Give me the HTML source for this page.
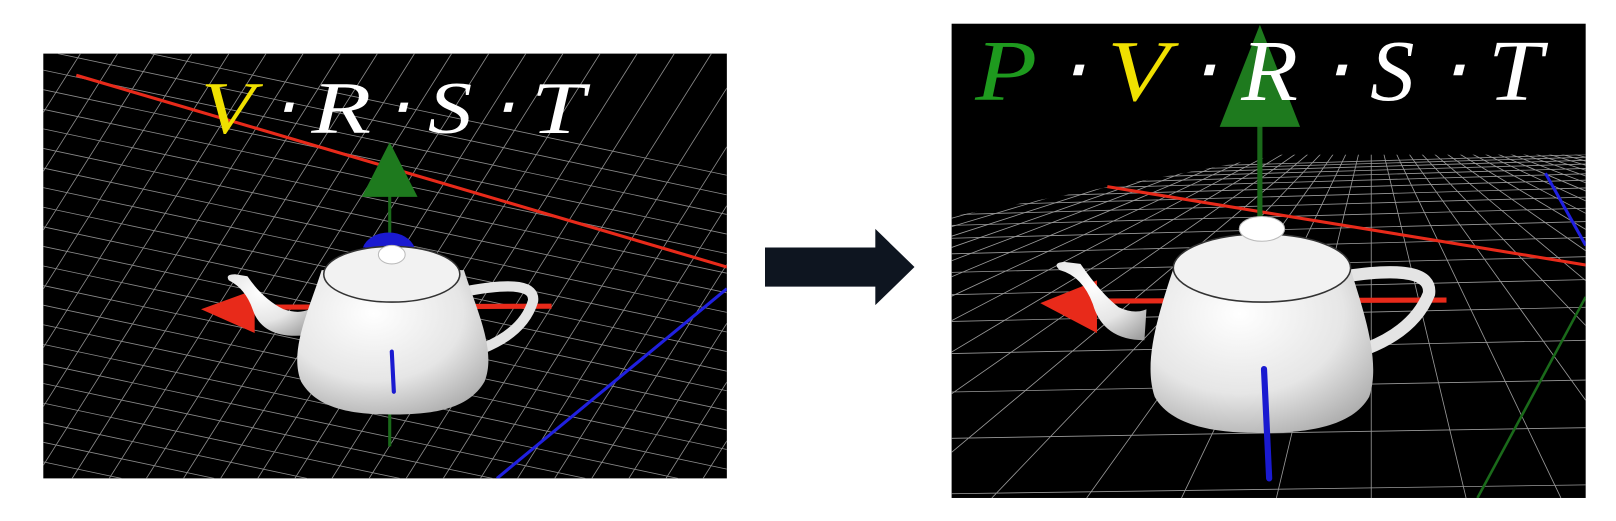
<!DOCTYPE html>
<html><head><meta charset="utf-8"><style>
html,body{margin:0;padding:0;background:#fff;width:1616px;height:521px;overflow:hidden}
svg{display:block;overflow:hidden}
text{font-family:"Liberation Serif",serif;font-style:italic}
</style></head><body>
<svg id="s" width="1616" height="521" viewBox="0 0 1616 521">
<defs>
<radialGradient id="pot" cx="0.4" cy="0.3" r="0.85"><stop offset="0" stop-color="#ffffff"/><stop offset="0.55" stop-color="#e6e6e6"/><stop offset="1" stop-color="#a0a0a0"/></radialGradient>
<clipPath id="cl"><rect x="42" y="52" width="663" height="412"/></clipPath>
<clipPath id="cr"><rect x="923" y="23" width="615" height="460"/></clipPath>
<clipPath id="floor"><polygon points="923,210 1243,150 1538,150 1538,483 923,483"/></clipPath>
</defs>
<g transform="scale(1.031)">
<g>
<rect x="42" y="52" width="663" height="412" fill="#000"/>
<g id="gl" clip-path="url(#cl)" stroke="#8a8a8a" stroke-width="0.8"></g>
<g clip-path="url(#cl)">
<line x1="74" y1="73" x2="705" y2="259" stroke="#e82a1a" stroke-width="3"/>
<line x1="482" y1="464" x2="705" y2="280" stroke="#2020e0" stroke-width="3"/>
<line x1="378" y1="190" x2="378" y2="433" stroke="#1a6a1a" stroke-width="3"/>
<polygon points="378,138 351,191 405,191" fill="#1e7a1e"/>
<path d="M352,240 A26,20 0 0 1 402,240 Z" fill="#1a1ad0"/>
<line x1="240" y1="298" x2="535" y2="297" stroke="#e82a1a" stroke-width="5"/>
<polygon points="195,300 247,281 247,323" fill="#e82a1a"/>
<path d="M298,325 Q255,330 245,300 Q238,280 222,272 Q218,266 228,266 L240,268 Q255,290 275,300 Q290,305 300,300Z" fill="url(#pot)"/>
<path d="M455,282 Q520,270 517,292 Q508,322 468,338" fill="none" stroke="#e4e4e4" stroke-width="10"/>
<path d="M312,262 C300,300 280,340 292,370 C308,398 345,402 381,402 C417,402 454,398 470,370 C482,340 462,300 450,262 Z" fill="url(#pot)"/>
<ellipse cx="380" cy="266" rx="66" ry="27" fill="#f2f2f2" stroke="#333" stroke-width="1.5"/>
<ellipse cx="380" cy="247" rx="13" ry="9" fill="#fff" stroke="#bbb"/>
<line x1="380" y1="341" x2="382" y2="380" stroke="#1a1ad0" stroke-width="4" stroke-linecap="round"/>
</g>
<g font-size="72" fill="#fff">
<text x="195" y="129" fill="#f0e000" textLength="52" lengthAdjust="spacingAndGlyphs">V</text>
<text x="274" y="129" text-anchor="middle">⋅</text>
<text x="302" y="129" textLength="58" lengthAdjust="spacingAndGlyphs">R</text>
<text x="385" y="129" text-anchor="middle">⋅</text>
<text x="415" y="129" textLength="43" lengthAdjust="spacingAndGlyphs">S</text>
<text x="487" y="129" text-anchor="middle">⋅</text>
<text x="515" y="129" textLength="52" lengthAdjust="spacingAndGlyphs">T</text>
</g>
</g>
<g>
<polygon points="742,240 849,240 849,222 887,259 849,296 849,278 742,278" fill="#0e1520"/>
</g>
<g>
<rect x="923" y="23" width="615" height="460" fill="#000"/>
<g clip-path="url(#cr)"><g id="gr" clip-path="url(#floor)" stroke="#9a9a9a" stroke-width="0.8"></g></g>
<g clip-path="url(#cr)">
<line x1="1074" y1="181" x2="1538" y2="257" stroke="#e82a1a" stroke-width="3"/>
<line x1="1499" y1="168" x2="1538" y2="238" stroke="#2020e0" stroke-width="3"/>
<line x1="1538" y1="288" x2="1433" y2="483" stroke="#1a6a1a" stroke-width="2.5"/>
<line x1="1222" y1="110" x2="1222" y2="215" stroke="#1a6a1a" stroke-width="5"/>
<polygon points="1222,24 1183,123 1261,123" fill="#1e7a1e"/>
<line x1="1060" y1="292" x2="1403" y2="291" stroke="#e82a1a" stroke-width="5"/>
<polygon points="1009,294 1064,272 1064,323" fill="#e82a1a"/>
<path d="M1110,330 Q1070,330 1060,295 Q1050,268 1028,262 Q1020,255 1032,254 L1048,256 Q1068,285 1085,298 Q1100,305 1112,300Z" fill="url(#pot)"/>
<path d="M1305,268 Q1390,255 1386,285 Q1372,320 1326,338" fill="none" stroke="#e4e4e4" stroke-width="12"/>
<path d="M1140,255 C1125,300 1108,350 1120,385 C1138,417 1190,420 1224,420 C1258,420 1310,417 1328,385 C1340,350 1322,300 1308,255 Z" fill="url(#pot)"/>
<ellipse cx="1224" cy="260" rx="86" ry="33" fill="#f2f2f2" stroke="#333" stroke-width="1.5"/>
<ellipse cx="1224" cy="222" rx="22" ry="12" fill="#fff" stroke="#bbb"/>
<line x1="1226" y1="358" x2="1231" y2="464" stroke="#1a1ad0" stroke-width="6" stroke-linecap="round"/>
</g>
<g font-size="84" fill="#fff">
<text x="946" y="97" fill="#1e9a1e" textLength="60" lengthAdjust="spacingAndGlyphs">P</text>
<text x="1039" y="97" text-anchor="middle">⋅</text>
<text x="1074" y="97" fill="#f0e000" textLength="60" lengthAdjust="spacingAndGlyphs">V</text>
<text x="1166" y="97" text-anchor="middle">⋅</text>
<text x="1204" y="97" textLength="55" lengthAdjust="spacingAndGlyphs">R</text>
<text x="1294" y="97" text-anchor="middle">⋅</text>
<text x="1329" y="97" textLength="43" lengthAdjust="spacingAndGlyphs">S</text>
<text x="1408" y="97" text-anchor="middle">⋅</text>
<text x="1443" y="97" textLength="53" lengthAdjust="spacingAndGlyphs">T</text>
</g>
</g>
</g>
<script>
var NS = 'http://www.w3.org/2000/svg';
function gridLine(g, x1, y1, x2, y2) {
  var l = document.createElementNS(NS, 'line');
  l.setAttribute('x1', x1.toFixed(1));
  l.setAttribute('y1', y1.toFixed(1));
  l.setAttribute('x2', x2.toFixed(1));
  l.setAttribute('y2', y2.toFixed(1));
  
  
  g.appendChild(l);
}
var gL = document.getElementById('gl');
/* steep lines: from (a,52) to (a-260,464) */
for (var i = 0; i < 34; i++) {
  var a = 42 + i * 36;
  var sx = a, sy = 52, ex = a - 260, ey = 464;
  if (sx > 705) { sy = 52 + (sx - 705) * 412 / 260; sx = 705; }
  if (ex < 42) { ey = 52 + (a - 42) * 412 / 260; ex = 42; }
  if (sy < ey) gridLine(gL, sx, sy, ex, ey);
}
/* shallow lines: from (42,y) to (705,y+140) */
for (var j = 0; j < 26; j++) {
  var y0 = 30 + j * 19;
  var k = 140 / 663;
  var lx1 = 42, ly1 = y0, lx2 = 705, ly2 = y0 + 140;
  if (ly1 < 52) { lx1 = 42 + (52 - y0) / k; ly1 = 52; }
  if (ly2 > 464) { lx2 = 42 + (464 - y0) / k; ly2 = 464; }
  if (lx1 < lx2) gridLine(gL, lx1, ly1, lx2, ly2);
}
var gR = document.getElementById('gr');
/* fan lines toward vanishing region: (1330+i*10,140) -> (1330+i*92,483) */
for (var m = -40; m < 40; m++) {
  var tx = 1330 + m * 10, bx = 1330 + m * 92, ty = 140, by = 483;
  var ddx = bx - tx, ddy = by - ty;
  if (bx < 923) { if (tx < 923) continue; by = ty + ddy * (923 - tx) / ddx; bx = 923; }
  if (bx > 1538) { if (tx > 1538) continue; by = ty + ddy * (1538 - tx) / ddx; bx = 1538; }
  gridLine(gR, tx, ty, bx, by);
}
var yy = 150, dd = 2.5;
for (var n = 0; n < 40 && yy < 483; n++) {
  gridLine(gR, 923, Math.min(483, yy + 8 + (490 - yy) * 0.03), 1538, yy);
  yy += dd; dd *= 1.2;
}
</script>
</svg>
</body></html>
